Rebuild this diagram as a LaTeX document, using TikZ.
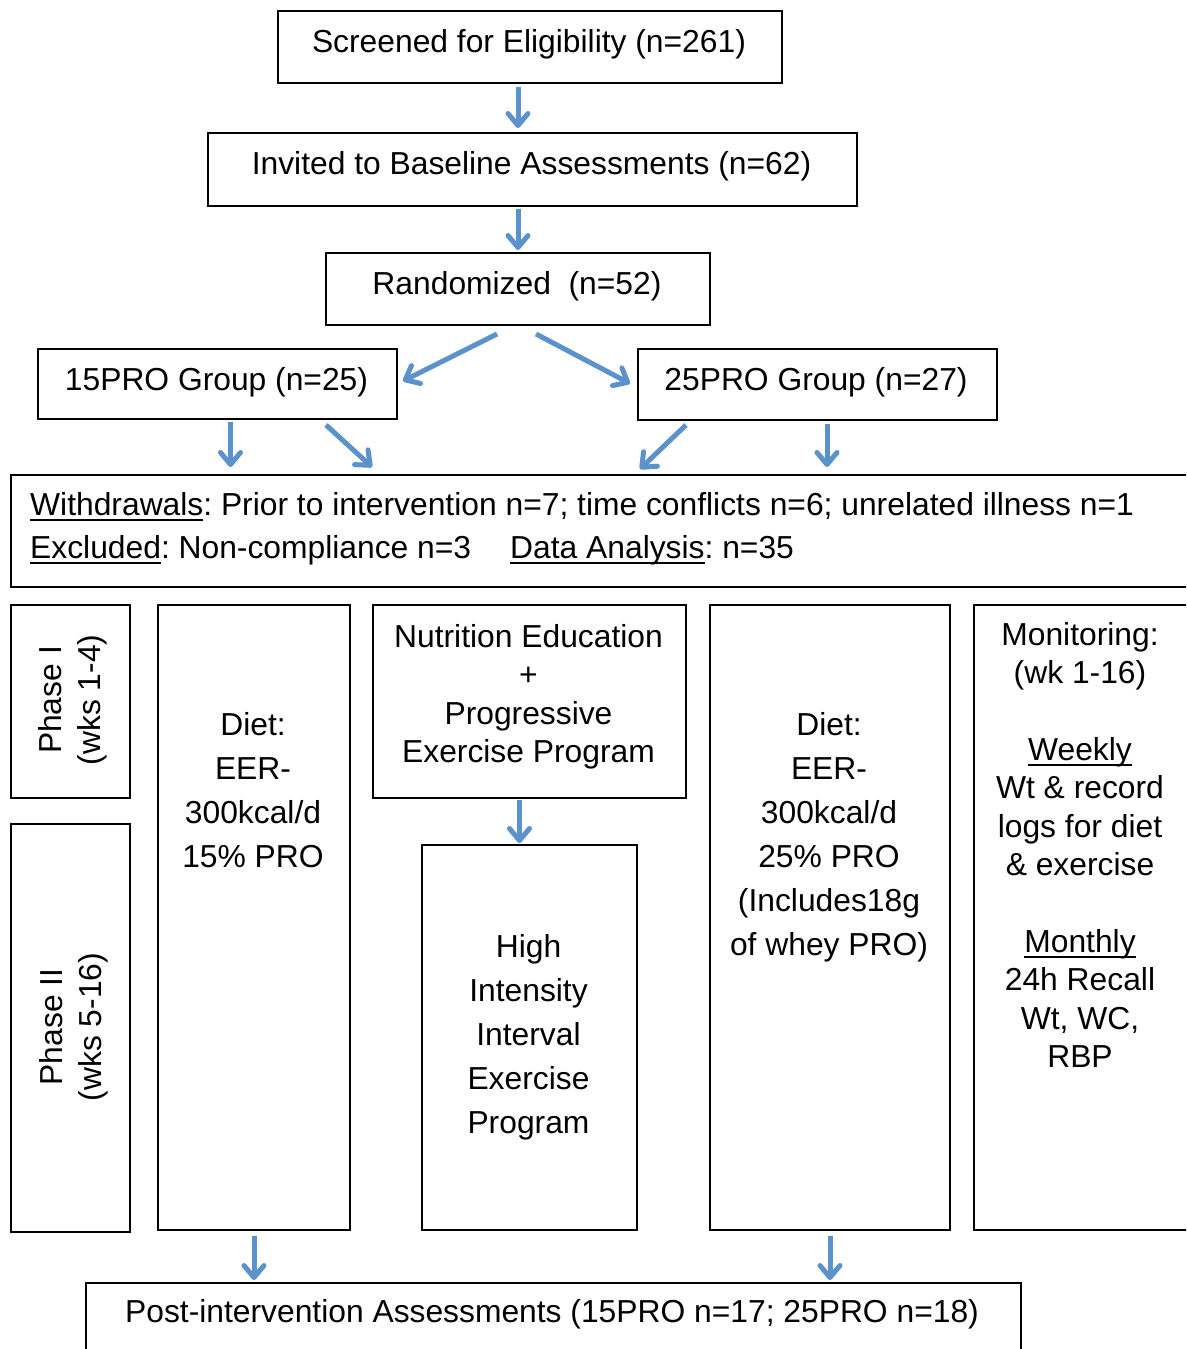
\documentclass[tikz,border=0pt]{standalone}
\usepackage{fontspec}
\setmainfont{Liberation Sans}
\usetikzlibrary{arrows.meta,calc}
\definecolor{arrowblue}{RGB}{92,146,204}
\frenchspacing
\newsavebox\ulbox
\newcommand\myul[1]{\sbox\ulbox{#1}\rlap{\rule[-5.5pt]{\wd\ulbox}{1.6pt}}\usebox\ulbox}
\newcommand\stk[2]{\fontsize{31.8}{#1}\selectfont\begin{tabular}[t]{@{}c@{}}#2\end{tabular}}
\tikzset{
  box/.style={draw=black, line width=2pt, inner sep=0pt, anchor=north west},
  txt/.style={inner sep=0pt, anchor=base, font=\fontsize{31.8}{38}\selectfont},
  arr/.style={draw=arrowblue, line width=5pt, -{Straight Barb[length=12pt,width=20pt,round]}}
}
\begin{document}
\begin{tikzpicture}[x=1pt,y=-1pt]
\useasboundingbox (0,0) rectangle (1186,1349);
\clip (0,0) rectangle (1186,1349);
% boxes
\node[box, minimum width=504pt, minimum height=72pt] (scr) at (277,10) {};
\node[box, minimum width=649pt, minimum height=73pt] (inv) at (207,132) {};
\node[box, minimum width=384pt, minimum height=72pt] (rnd) at (325,252) {};
\node[box, minimum width=359pt, minimum height=70pt] (g15) at (37,348) {};
\node[box, minimum width=359pt, minimum height=71pt] (g25) at (637,348) {};
\node[box, minimum width=1200pt, minimum height=112pt] (wd) at (10,474) {};
\node[box, minimum width=119pt, minimum height=193pt] (ph1) at (10,604) {};
\node[box, minimum width=119pt, minimum height=408pt] (ph2) at (10,823) {};
\node[box, minimum width=192pt, minimum height=625pt] (d15) at (157,604) {};
\node[box, minimum width=313pt, minimum height=193pt] (nut) at (372,604) {};
\node[box, minimum width=215pt, minimum height=385pt] (hiit) at (421,844) {};
\node[box, minimum width=240pt, minimum height=625pt] (d25) at (709,604) {};
\node[box, minimum width=240pt, minimum height=625pt] (mon) at (973,604) {};
\node[box, minimum width=935pt, minimum height=100pt] (post) at (85,1282) {};
% texts
\node[txt] (tscr) at (529,52) {Screened for Eligibility (n=261)};
\node[txt] (tinv) at (531.5,174) {Invited to Baseline Assessments (n=62)};
\node[txt] (trnd) at (517,294) {Randomized\ \ (n=52)};
\node[txt] (tg15) at (216.5,390) {15PRO Group (n=25)};
\node[txt] (tg25) at (816,390) {25PRO Group (n=27)};
\node[txt, anchor=base west] (twd) at (30,515) {\fontsize{31.8}{43}\selectfont\begin{tabular}[t]{@{}l@{}}\myul{Withdrawals}: Prior to intervention n=7; time conflicts n=6; unrelated illness n=1\\ \myul{Excluded}: Non-compliance n=3\hspace{39pt}\myul{Data Analysis}: n=35\end{tabular}};
\node[txt, rotate=90] (tph1) at (61,700) {\stk{39}{Phase I\\(wks 1-4)}};
\node[txt, rotate=90] (tph2) at (62,1027) {\stk{39}{Phase II\\(wks 5-16)}};
\node[txt] (td15) at (253,735) {\stk{44}{Diet:\\EER-\\300kcal/d\\15\% PRO}};
\node[txt] (tnut) at (528.5,647) {\stk{38.5}{Nutrition Education\\+\\Progressive\\Exercise Program}};
\node[txt] (thiit) at (528.5,957) {\stk{44}{High\\Intensity\\Interval\\Exercise\\Program}};
\node[txt] (td25) at (829,735) {\stk{44}{Diet:\\EER-\\300kcal/d\\25\% PRO\\(Includes18g\\of whey PRO)}};
\node[txt] (tmon) at (1080,645) {\stk{38.4}{Monitoring:\\(wk 1-16)\\ \\\myul{Weekly}\\Wt \& record\\logs for diet\\\& exercise\\ \\\myul{Monthly}\\24h Recall\\Wt, WC,\\RBP}};
\node[txt] (tpost) at (552,1322) {Post-intervention Assessments (15PRO n=17; 25PRO n=18)};
% arrows
\draw[arr, shorten <=3pt, shorten >=4pt] (scr.south -| rnd.north) -- (inv.north -| rnd.north);
\draw[arr, shorten <=2pt, shorten >=2pt] (inv.south -| rnd.north) -- (rnd.north);
\draw[arr] ($(rnd.south)+(-21,8)$) -- ($(g15.east)+(5,-3)$);
\draw[arr] ($(rnd.south)+(18,8)$) -- ($(g25.west)+(-7,-1)$);
\draw[arr] ($(g15.south)+(13,2)$) -- ($(g15.south)+(13,47)$);
\draw[arr] ($(g15.south)+(108.5,5)$) -- ($(g15.south)+(154.5,47)$);
\draw[arr] ($(g25.south)+(-131.5,4)$) -- ($(g25.south)+(-177.5,48)$);
\draw[arr] ($(g25.south)+(9.5,3)$) -- ($(g25.south)+(9.5,46)$);
\draw[arr, shorten <=1pt, shorten >=1pt] ($(nut.south)+(-10,0)$) -- ($(hiit.north)+(-10,0)$);
\draw[arr, shorten <=5pt, shorten >=2pt] (d15.south) -- (d15.south |- post.north);
\draw[arr, shorten <=5pt, shorten >=2pt] (d25.south) -- (d25.south |- post.north);
\end{tikzpicture}
\end{document}
